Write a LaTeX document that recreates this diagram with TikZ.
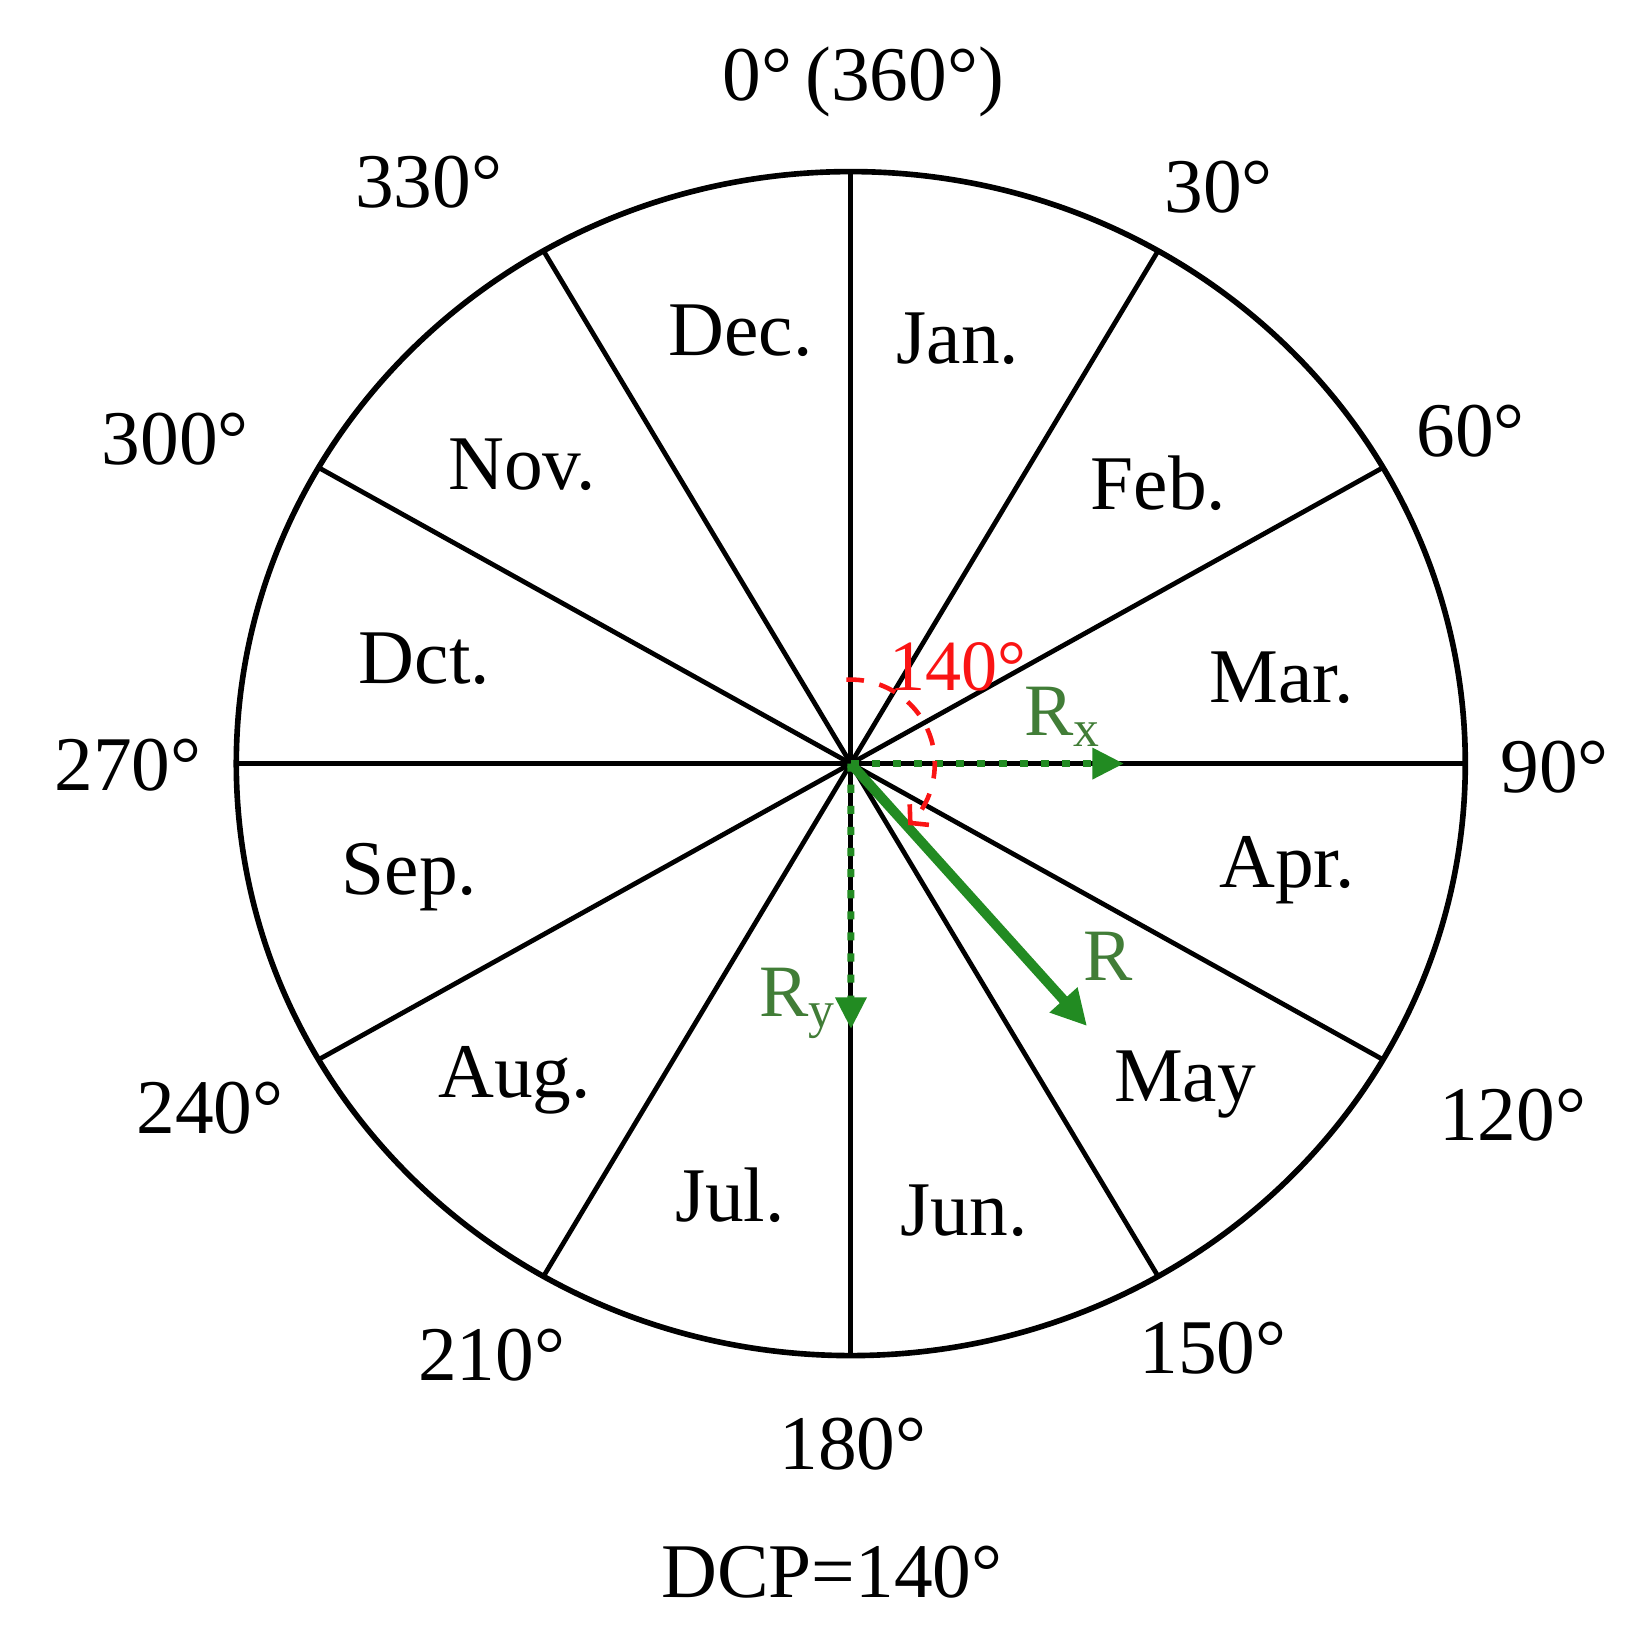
\documentclass[tikz,border=0pt]{standalone}
\usepackage{fontspec}
\setmainfont{Liberation Serif}
\usetikzlibrary{arrows.meta}
\definecolor{vgreen}{RGB}{34,139,34}
\definecolor{lgreen}{RGB}{65,125,55}
\definecolor{vred}{RGB}{250,20,20}
\begin{document}
\begin{tikzpicture}[x=0.01cm,y=0.01cm,
  lbl/.style={font=\fontsize{22}{26}\selectfont, inner sep=0pt},
  glbl/.style={font=\fontsize{21}{25}\selectfont, inner sep=0pt, text=lgreen},
  rlbl/.style={font=\fontsize{20.5}{24}\selectfont, inner sep=0pt, text=vred},
  spoke/.style={line width=1.35pt, black},
  rim/.style={line width=1.6pt, black},
  comp/.style={vgreen, line width=2pt, dash pattern=on 2.3pt off 3.7pt, -{Triangle[length=9pt,width=8.5pt]}},
  resv/.style={vgreen, line width=2.8pt, -{Triangle[length=10pt,width=10pt]}},
  angarc/.style={vred, line width=1.3pt, dash pattern=on 5pt off 4.5pt, -{Straight Barb[length=3.5pt,width=8pt]}}]
\useasboundingbox (0,0) rectangle (1647,1647);
\fill[white] (0,0) rectangle (1647,1647);
\coordinate (c) at (850.8,883.4);
\foreach \a [count=\i] in {0,30,...,330}
  \path (c) ++ (90-\a:614.5 and 592) coordinate (e\i);
\foreach \i in {1,...,12}
  \draw[spoke] (c) -- (e\i);
\draw[rim] (c) ellipse [x radius=614.5, y radius=592];
% vectors
\coordinate (rx) at (1124,883.4);
\coordinate (ry) at (851,618);
\coordinate (r) at (1087,621);
\draw[comp] (c) -- (rx);
\draw[comp] (c) -- (ry);
\draw[resv] (c) -- (r);
% angle arc
\draw[angarc] (c) ++ (93:84) arc[start angle=93, end angle=-47, radius=84];
% month labels
\node[lbl] (dec) at (740.5,1316) {Dec.};
\node[lbl] (jan) at (958,1308) {Jan.};
\node[lbl] (feb) at (1158.6,1164) {Feb.};
\node[lbl] (mar) at (1281.5,969.5) {Mar.};
\node[lbl] (apr) at (1287,777) {Apr.};
\node[lbl] (may) at (1185,562) {May};
\node[lbl] (jun) at (964,436) {Jun.};
\node[lbl] (jul) at (730,451.6) {Jul.};
\node[lbl] (aug) at (514.7,567) {Aug.};
\node[lbl] (sep) at (409.6,770) {Sep.};
\node[lbl] (oct) at (424.4,988.4) {Dct.};
\node[lbl] (nov) at (522,1182) {Nov.};
% degree labels
\node[lbl] (d0) at (863.4,1565) {0°\,(360°)};
\node[lbl] (d30) at (1218.5,1460) {30°};
\node[lbl] (d60) at (1470.6,1216.3) {60°};
\node[lbl] (d90) at (1554.6,880.2) {90°};
\node[lbl] (d120) at (1512.6,531.5) {120°};
\node[lbl] (d150) at (1213,299.3) {150°};
\node[lbl] (d180) at (853,203) {180°};
\node[lbl] (d210) at (491.6,292) {210°};
\node[lbl] (d240) at (210,539) {240°};
\node[lbl] (d270) at (128,882.3) {270°};
\node[lbl] (d300) at (175.4,1208) {300°};
\node[lbl] (d330) at (428.6,1465.3) {330°};
\node[lbl] (dcp) at (832,74.6) {DCP=140°};
% vector labels
\node[rlbl] (ang) at (958,980) {140°};
\node[glbl] (lrx) at (1063,930) {R\textsubscript{x}};
\node[glbl] (lry) at (798,644) {R\textsubscript{y}};
\node[glbl] (lr) at (1108,691) {R};
\end{tikzpicture}
\end{document}
